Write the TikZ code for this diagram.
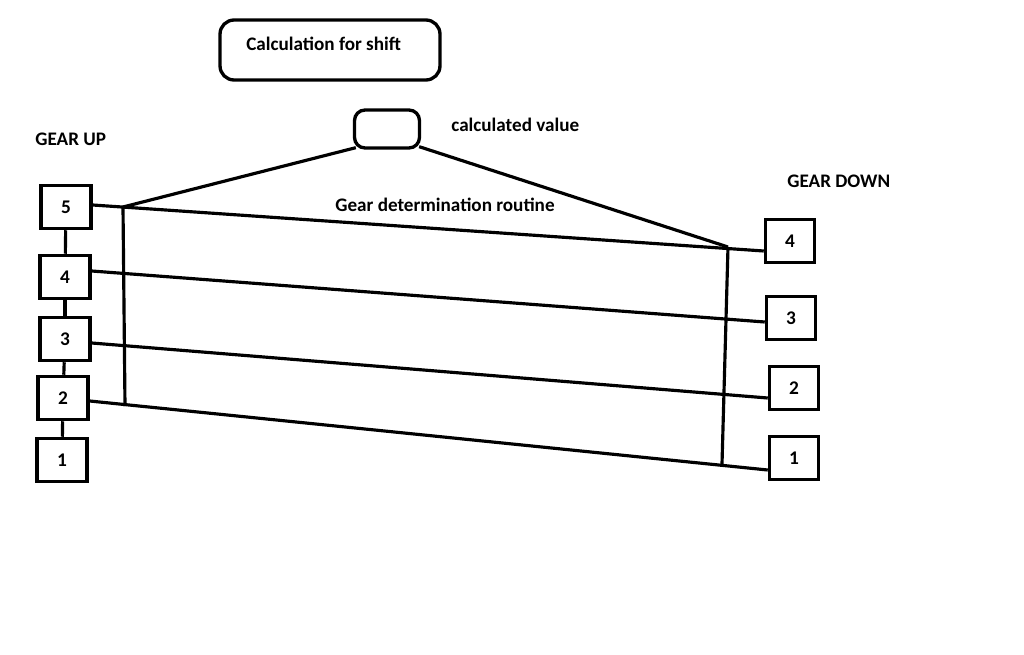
\documentclass[tikz,border=0pt]{standalone}
\usepackage{fontspec}
\setmainfont{Carlito}
\usetikzlibrary{positioning, calc}

\begin{document}
\begin{tikzpicture}[
    x=0.02cm, y=-0.02cm,
    gbox/.style={draw, line width=2pt, minimum width=1.0cm, minimum height=0.86cm, inner sep=0pt, font=\fontsize{11}{13}\selectfont\bfseries},
    lbl/.style={font=\fontsize{10.9}{13}\selectfont\bfseries, anchor=west, inner sep=0pt},
    lnk/.style={line width=1.8pt}
  ]
  \useasboundingbox (0,0) rectangle (1024,655);

  % Calculation boxes
  \node[draw, line width=1.9pt, rounded corners=8pt, minimum width=4.4cm, minimum height=1.2cm] (calc) at (330,50) {};
  \node[lbl] (calctxt) at (246,44) {Calculation for shift};
  \node[draw, line width=1.9pt, rounded corners=6pt, minimum width=1.3cm, minimum height=0.76cm] (val) at (387,129) {};
  \node[lbl] (valtxt) at (451,125) {calculated value};

  % Gear up
  \node[lbl] (uptxt) at (35,139) {GEAR UP};
  \foreach \n/\x/\y in {5/66/207, 4/65/277, 3/65/339, 2/63/398, 1/62/460} {
    \node[gbox] (u\n) at (\x,\y) {\n};
  }
  \draw[lnk] (u5) -- (u4);
  \draw[lnk] (u4) -- (u3);
  \draw[lnk] (u3) -- (u2);
  \draw[lnk] (u2) -- (u1);

  % Gear down
  \node[lbl] (downtxt) at (787,181) {GEAR DOWN};
  \foreach \n/\x/\y in {4/790/241, 3/791/318, 2/794/388, 1/794/458} {
    \node[gbox, minimum width=0.98cm] (d\n) at (\x,\y) {\n};
  }

  % Gear determination routine
  \node[lbl] (routine) at (335,205) {Gear determination routine};
  \coordinate (ut) at (123,207);
  \coordinate (ub) at (125,406);
  \coordinate (dt) at (728,247);
  \coordinate (db) at (722,464);
  \draw[lnk] ($(val.south west)+(3,-2)$) -- (ut);
  \draw[lnk] ($(val.south east)+(-2,-3)$) -- (dt);
  \draw[lnk] (ut) -- (ub);
  \draw[lnk] (dt) -- (db);
  \draw[lnk] ($(u5.east)+(0,-2)$) -- ($(d4.west)+(0,10)$);
  \draw[lnk] ($(u4.east)+(0,-6)$) -- ($(d3.west)+(0,4)$);
  \draw[lnk] ($(u3.east)+(0,4)$) -- ($(d2.west)+(0,10)$);
  \draw[lnk] ($(u2.east)+(0,3)$) -- ($(d1.west)+(0,12)$);
\end{tikzpicture}
\end{document}
